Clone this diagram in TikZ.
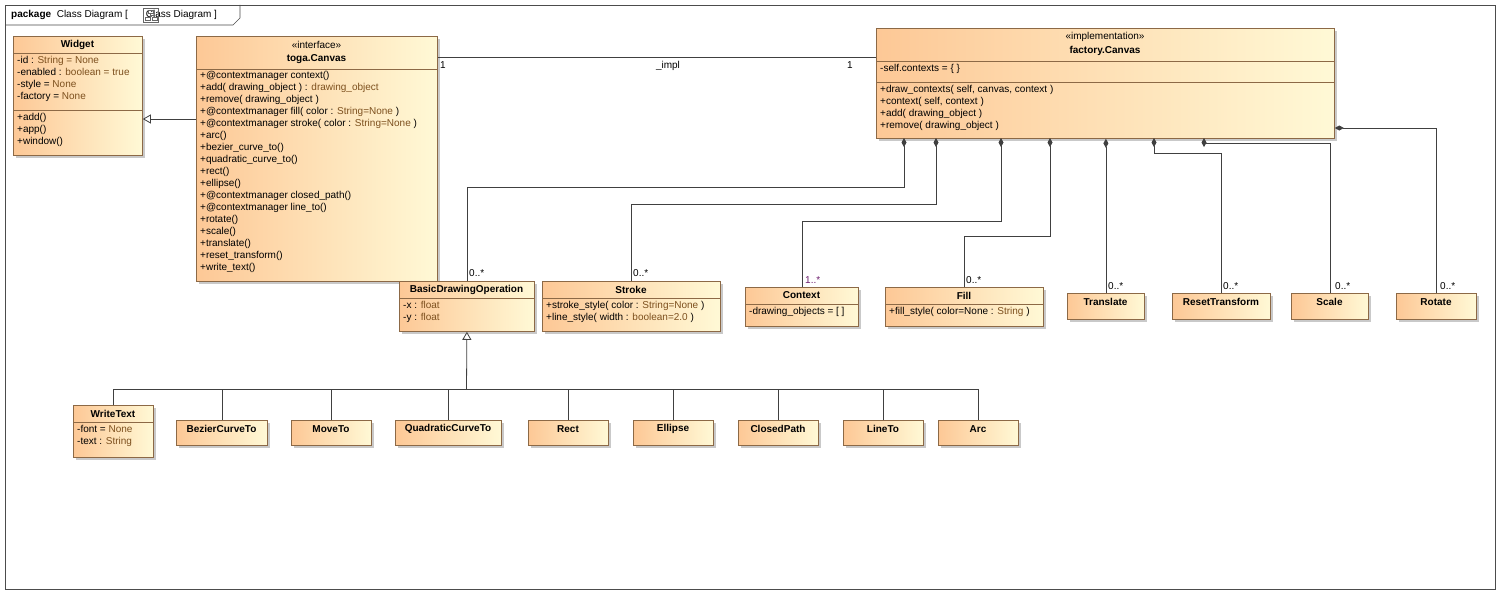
\documentclass[tikz,border=0pt]{standalone}
\usepackage{fontspec}
\setmainfont{Liberation Sans}
\usetikzlibrary{shadows,arrows.meta,calc}
\definecolor{cl}{RGB}{253,200,150}
\definecolor{cr}{RGB}{255,249,214}
\definecolor{bd}{RGB}{140,105,70}
\definecolor{typ}{RGB}{125,80,30}
\definecolor{mult}{RGB}{110,30,110}
\tikzset{
 cls/.style={draw=bd,line width=0.8pt,left color=cl,right color=cr,rectangle,inner sep=0,anchor=north west,
   drop shadow={shadow xshift=3pt,shadow yshift=-3pt,fill=black!35,opacity=0.6}},
 hd/.style={font=\fontsize{10}{12}\selectfont\bfseries,inner sep=0},
 st/.style={font=\fontsize{10}{12}\selectfont,inner sep=0},
 tx/.style={font=\fontsize{10}{12}\selectfont,inner sep=0,anchor=north west,align=left},
 sep/.style={draw=bd,line width=0.8pt},
 ln/.style={draw=black!75,line width=0.8pt},
 comp/.style={ln,-{Diamond[length=9pt,width=5pt,fill=black!75]}},
 gen/.style={ln,{Triangle[open,length=8pt,width=9pt,fill=white]}-},
 ml/.style={font=\fontsize{10}{12}\selectfont,inner sep=0,anchor=south west}
}
\newcommand{\tv}[1]{\textcolor{typ}{#1}}
\newcommand{\clsbox}[5]{\node[cls,minimum width=#4pt,minimum height=#5pt] (#1) at (#2,#3) {};}
\begin{document}
\begin{tikzpicture}[x=1pt,y=-1pt]
\useasboundingbox (0,0) rectangle (1501,594);
\fill[white] (0,0) rectangle (1501,594);
% frame
\draw[black!70,line width=0.7pt] (5,5) rectangle (1495,589);
\draw[black!70,line width=0.7pt] (5,25) -- (233,25) -- (240,18) -- (240,5);
\node[st,anchor=west] (ttl) at (11,15) {\textbf{package}\ \ Class Diagram [\hspace{18pt}Class Diagram ]};
\draw[black!60] (143,8) rectangle (158,22);
\draw[black!60] (148,10) rectangle (153,13) (145,17) rectangle (150,20) (152,17) rectangle (157,20) (150,13)--(150,17) (150,15)--(154,15)--(154,17);

% Widget
\clsbox{wd}{13}{36}{129}{119}
\draw[sep] (13,53) -- (142,53) (13,110) -- (142,110);
\node[hd] (wdh) at (77.5,44.5) {Widget};
\node[tx] (wda) at (17,56) {-id : \tv{String = None}\\-enabled : \tv{boolean = true}\\-style = \tv{None}\\-factory = \tv{None}};
\node[tx] (wdo) at (17,113) {+add()\\+app()\\+window()};

% toga.Canvas
\clsbox{tc}{196}{36}{241}{245}
\draw[sep] (196,69) -- (437,69);
\node[st] (tcs) at (316.5,45) {«interface»};
\node[hd] (tch) at (316.5,59) {toga.Canvas};
\node[tx] (tco) at (200,71) {+@contextmanager context()\\+add( drawing\_object ) : \tv{drawing\_object}\\+remove( drawing\_object )\\+@contextmanager fill( color : \tv{String=None} )\\+@contextmanager stroke( color : \tv{String=None} )\\+arc()\\+bezier\_curve\_to()\\+quadratic\_curve\_to()\\+rect()\\+ellipse()\\+@contextmanager closed\_path()\\+@contextmanager line\_to()\\+rotate()\\+scale()\\+translate()\\+reset\_transform()\\+write\_text()};

% factory.Canvas
\clsbox{fc}{876}{28}{458}{110}
\draw[sep] (876,61) -- (1334,61) (876,82) -- (1334,82);
\node[st] (fcs) at (1105,37) {«implementation»};
\node[hd] (fch) at (1105,51) {factory.Canvas};
\node[tx] (fca) at (880,64) {-self.contexts = \{ \}};
\node[tx] (fco) at (880,85) {+draw\_contexts( self, canvas, context )\\+context( self, context )\\+add( drawing\_object )\\+remove( drawing\_object )};

% BasicDrawingOperation
\clsbox{bdo}{399}{281}{135}{50}
\draw[sep] (399,298) -- (534,298);
\node[hd] (bdoh) at (466.5,289.5) {BasicDrawingOperation};
\node[tx] (bdoa) at (403,301) {-x : \tv{float}\\-y : \tv{float}};

% Stroke
\clsbox{sk}{542}{281}{178}{50}
\draw[sep] (542,298) -- (720,298);
\node[hd] (skh) at (631,289.5) {Stroke};
\node[tx] (sko) at (546,301) {+stroke\_style( color : \tv{String=None} )\\+line\_style( width : \tv{boolean=2.0} )};

% Context
\clsbox{cx}{745}{287}{113}{39}
\draw[sep] (745,304) -- (858,304);
\node[hd] (cxh) at (801.5,295.5) {Context};
\node[tx] (cxa) at (749,307) {-drawing\_objects = [ ]};

% Fill
\clsbox{fl}{885}{287}{158}{39}
\draw[sep] (885,304) -- (1043,304);
\node[hd] (flh) at (964,295.5) {Fill};
\node[tx] (flo) at (889,307) {+fill\_style( color=None : \tv{String} )};

% simple classes right
\clsbox{tr}{1067}{293}{77}{26}
\node[hd] (trh) at (1105.5,302) {Translate};
\clsbox{rt}{1172}{293}{98}{26}
\node[hd] (rth) at (1221,302) {ResetTransform};
\clsbox{sc}{1291}{293}{77}{26}
\node[hd] (sch) at (1329.5,302) {Scale};
\clsbox{ro}{1396}{293}{80}{26}
\node[hd] (roh) at (1436,302) {Rotate};

% WriteText
\clsbox{wt}{73}{405}{80}{52}
\draw[sep] (73,422) -- (153,422);
\node[hd] (wth) at (113,413.5) {WriteText};
\node[tx] (wta) at (77,425) {-font = \tv{None}\\-text : \tv{String}};

% bottom classes
\clsbox{bz}{176}{420}{91}{25}
\node[hd] (bzh) at (221.5,429) {BezierCurveTo};
\clsbox{mv}{291}{420}{80}{25}
\node[hd] (mvh) at (331,429) {MoveTo};
\clsbox{qc}{395}{420}{106}{25}
\node[hd] (qch) at (448,429) {QuadraticCurveTo};
\clsbox{re}{528}{420}{80}{25}
\node[hd] (reh) at (568,429) {Rect};
\clsbox{el}{633}{420}{80}{25}
\node[hd] (elh) at (673,429) {Ellipse};
\clsbox{cp}{738}{420}{80}{25}
\node[hd] (cph) at (778,429) {ClosedPath};
\clsbox{lt}{843}{420}{80}{25}
\node[hd] (lth) at (883,429) {LineTo};
\clsbox{ar}{938}{420}{80}{25}
\node[hd] (arh) at (978,429) {Arc};

% generalization tree
\coordinate (bus) at (466.5,389);
\draw[gen] (bdo.south) -- (bus);
\draw[ln] (wt.north) |- (ar.north |- bus) -- (ar.north);
\foreach \n in {bz,mv,qc,re,el,cp,lt} {\draw[ln] (\n.north) -- (\n.north |- bus);}

% toga -> Widget
\draw[gen] (wd.east |- 0,119) -- (tc.west |- 0,119);

% _impl association
\draw[ln] (tc.north east |- 0,57) -- (fc.west |- 0,57);
\node[ml] (m1) at (440,69) {1};
\node[ml] (m2) at (847,69) {1};
\node[st] (impl) at (668,66) {\_impl};

% compositions
\draw[comp] (bdo.north) |- (904,187) -- (904,138);
\draw[comp] (sk.north) |- (936,204) -- (936,138);
\draw[comp] (cx.north) |- (1001,221) -- (1001,138);
\draw[comp] (fl.north) |- (1050,236) -- (1050,138);
\draw[comp] (tr.north) -- (tr.north |- fc.south);
\draw[comp] (rt.north) |- (1154,153) -- (1154,138);
\draw[comp] (sc.north) |- (1204,143) -- (1204,138);
\draw[comp] (ro.north) |- (fc.east |- 0,128);
\node[ml] (m3) at (469,277) {0..*};
\node[ml] (m4) at (633,277) {0..*};
\node[ml,text=mult] (m5) at (805,284) {1..*};
\node[ml] (m6) at (966,284) {0..*};
\node[ml] (m7) at (1108,290) {0..*};
\node[ml] (m8) at (1223,290) {0..*};
\node[ml] (m9) at (1335,290) {0..*};
\node[ml] (m10) at (1440,290) {0..*};
\end{tikzpicture}
\end{document}
